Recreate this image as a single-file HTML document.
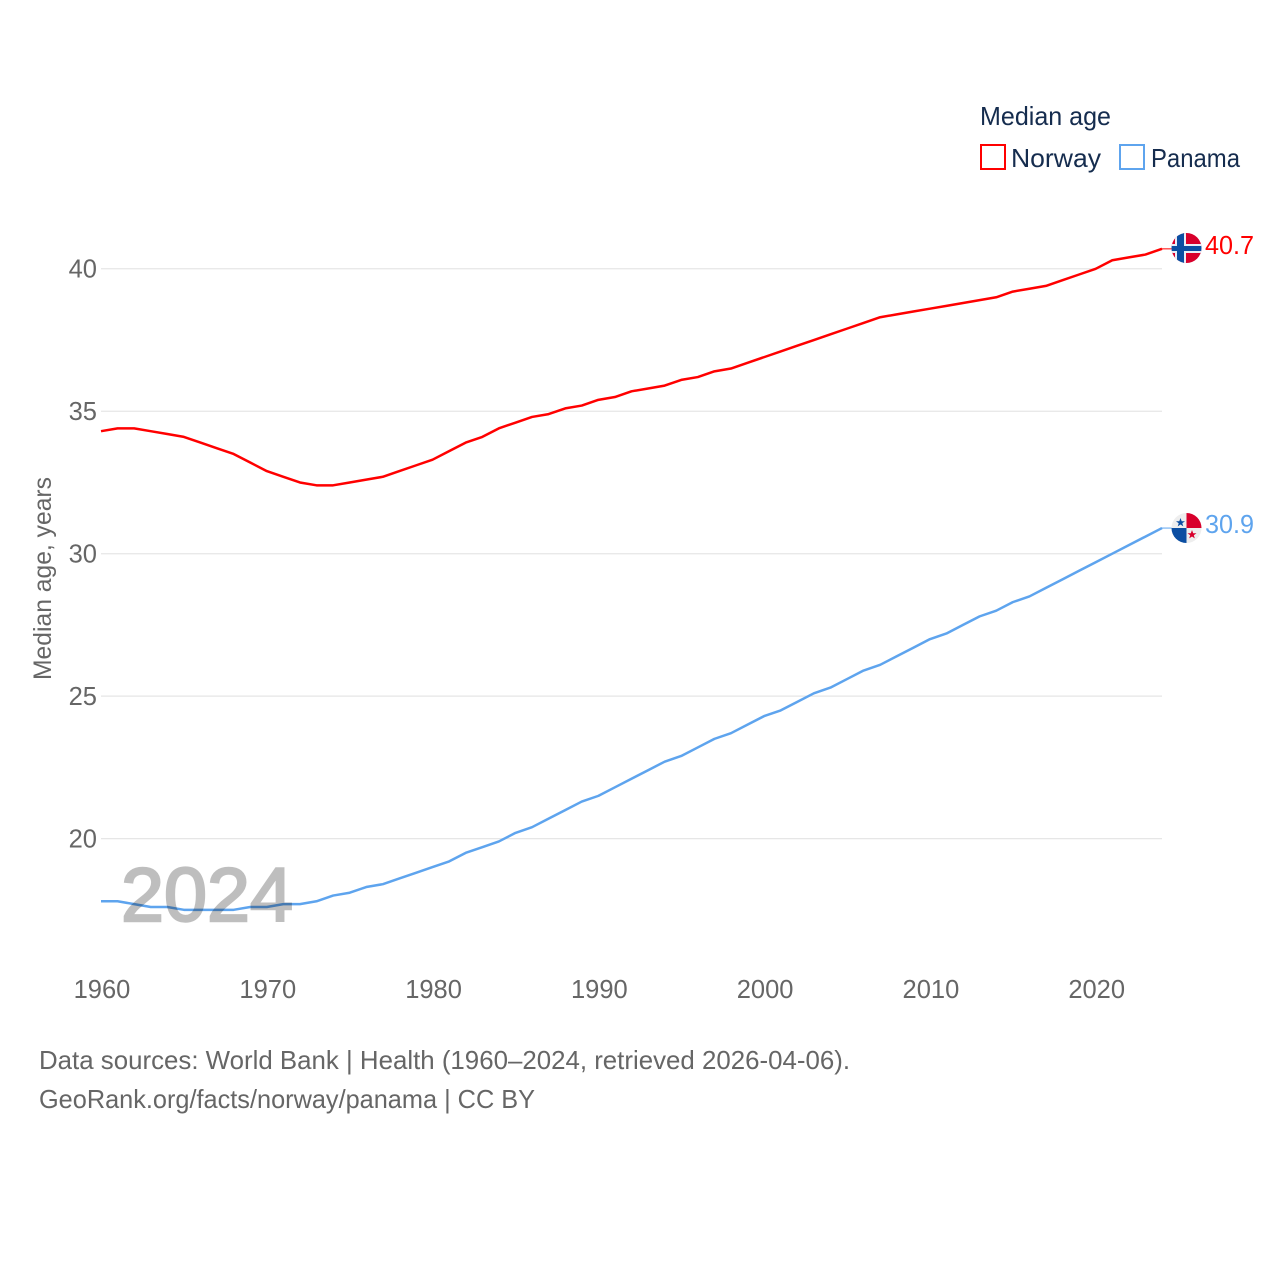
<!DOCTYPE html>
<html lang="en">
<head>
<meta charset="utf-8">
<title>Median age: Norway and Panama</title>
<style>
html,body{margin:0;padding:0;background:#fff;}
svg{display:block;font-family:"Liberation Sans",sans-serif;}
</style>
</head>
<body>
<svg id="chart" width="1280" height="1280" viewBox="0 0 1280 1280" xmlns="http://www.w3.org/2000/svg">
  <defs>
    <clipPath id="flag-clip-no"><circle cx="1186.5" cy="248" r="15"/></clipPath>
    <clipPath id="flag-clip-pa"><circle cx="1186.5" cy="528" r="15"/></clipPath>
  </defs>
  <rect width="1280" height="1280" fill="#fff"/>
  <g id="grid"></g>
  <g id="y-ticks"></g>
  <g id="x-ticks"></g>
  <g id="series"></g>

  <text x="121" y="921" font-size="76" font-weight="400" fill="#000" stroke="#000" stroke-width="2.4" opacity="0.25" textLength="172" lengthAdjust="spacingAndGlyphs">2024</text>

  <text transform="translate(51 680) rotate(-90)" font-size="25" fill="#666" textLength="203" lengthAdjust="spacingAndGlyphs">Median age, years</text>

  <g>
    <text x="980" y="125" font-size="26" fill="#152c4e" textLength="131" lengthAdjust="spacingAndGlyphs">Median age</text>
    <rect x="981" y="145" width="24" height="24" fill="#fff" stroke="#ff0000" stroke-width="2"/>
    <text x="1011" y="167" font-size="26" fill="#152c4e" textLength="90" lengthAdjust="spacingAndGlyphs">Norway</text>
    <rect x="1120" y="145" width="24" height="24" fill="#fff" stroke="#5ea4ee" stroke-width="2"/>
    <text x="1151" y="167" font-size="26" fill="#152c4e" textLength="89" lengthAdjust="spacingAndGlyphs">Panama</text>
  </g>

  <g clip-path="url(#flag-clip-no)">
    <rect x="1171" y="233" width="31" height="30" fill="#d8002c"/>
    <rect x="1175" y="233" width="11" height="30" fill="#e8eef6"/>
    <rect x="1171" y="244" width="31" height="9" fill="#e8eef6"/>
    <rect x="1177" y="233" width="7" height="30" fill="#0b4ea2"/>
    <rect x="1171" y="246" width="31" height="5" fill="#0b4ea2"/>
  </g>
  <g clip-path="url(#flag-clip-pa)">
    <rect x="1171" y="513" width="31" height="30" fill="#eeeeee"/>
    <rect x="1186.5" y="513" width="15.5" height="15" fill="#d8002c"/>
    <rect x="1171" y="528" width="15.5" height="15" fill="#0b4ea2"/>
    <polygon fill="#0b4ea2" points="1180.5,518 1181.7,521.2 1185,521.2 1182.3,523.2 1183.3,526.4 1180.5,524.5 1177.7,526.4 1178.7,523.2 1176,521.2 1179.3,521.2"/>
    <polygon fill="#d8002c" points="1192,530 1193.2,533.2 1196.5,533.2 1193.8,535.2 1194.8,538.4 1192,536.5 1189.2,538.4 1190.2,535.2 1187.5,533.2 1190.8,533.2"/>
  </g>

  <text x="1205" y="254" font-size="26" fill="#ff0000" textLength="49" lengthAdjust="spacingAndGlyphs">40.7</text>
  <text x="1205" y="533" font-size="26" fill="#5ea4ee" textLength="49" lengthAdjust="spacingAndGlyphs">30.9</text>

  <text x="39" y="1069" font-size="26" fill="#666" textLength="811" lengthAdjust="spacingAndGlyphs">Data sources: World Bank | Health (1960–2024, retrieved 2026-04-06).</text>
  <a><text x="39" y="1108" font-size="26" fill="#666" textLength="496" lengthAdjust="spacingAndGlyphs">GeoRank.org/facts/norway/panama | CC BY</text></a>
</svg>
<script>
const startYear = 1960;
const xTickLabels = [1960, 1970, 1980, 1990, 2000, 2010, 2020];
const yTickLabels = [20, 25, 30, 35, 40];
const norwayValues = [34.3,34.4,34.4,34.3,34.2,34.1,33.9,33.7,33.5,33.2,32.9,32.7,32.5,32.4,32.4,32.5,32.6,32.7,32.9,33.1,33.3,33.6,33.9,34.1,34.4,34.6,34.8,34.9,35.1,35.2,35.4,35.5,35.7,35.8,35.9,36.1,36.2,36.4,36.5,36.7,36.9,37.1,37.3,37.5,37.7,37.9,38.1,38.3,38.4,38.5,38.6,38.7,38.8,38.9,39.0,39.2,39.3,39.4,39.6,39.8,40.0,40.3,40.4,40.5,40.7];
const panamaValues = [17.8,17.8,17.7,17.6,17.6,17.5,17.5,17.5,17.5,17.6,17.6,17.7,17.7,17.8,18.0,18.1,18.3,18.4,18.6,18.8,19.0,19.2,19.5,19.7,19.9,20.2,20.4,20.7,21.0,21.3,21.5,21.8,22.1,22.4,22.7,22.9,23.2,23.5,23.7,24.0,24.3,24.5,24.8,25.1,25.3,25.6,25.9,26.1,26.4,26.7,27.0,27.2,27.5,27.8,28.0,28.3,28.5,28.8,29.1,29.4,29.7,30.0,30.3,30.6,30.9];

const NS = 'http://www.w3.org/2000/svg';
function xScale(year) { return 101 + (year - 1960) * (1162 - 101) / 64; }
function yScale(value) { return 838.6 - (value - 20) * (838.6 - 268.8) / 20; }

const gridGroup = document.getElementById('grid');
const yGroup = document.getElementById('y-ticks');
const xGroup = document.getElementById('x-ticks');
const seriesGroup = document.getElementById('series');

yTickLabels.forEach(function (v) {
  const line = document.createElementNS(NS, 'line');
  
  
  line.setAttribute('x1', 101);
  line.setAttribute('x2', 1162);
  line.setAttribute('y1', yScale(v));
  line.setAttribute('y2', yScale(v));
  line.setAttribute('stroke', '#e6e6e6');
  line.setAttribute('stroke-width', '1.25');
  gridGroup.appendChild(line);

  const label = document.createElementNS(NS, 'text');
  
  
  label.setAttribute('x', 97);
  label.setAttribute('y', yScale(v) + 8.8);
  label.setAttribute('text-anchor', 'end');
  label.setAttribute('font-size', '25.5');
  label.setAttribute('fill', '#666');
  label.textContent = v;
  yGroup.appendChild(label);
});

xTickLabels.forEach(function (y) {
  const label = document.createElementNS(NS, 'text');
  
  
  label.setAttribute('x', xScale(y) + 1);
  label.setAttribute('y', 998);
  label.setAttribute('text-anchor', 'middle');
  label.setAttribute('font-size', '25.5');
  label.setAttribute('fill', '#666');
  label.textContent = y;
  xGroup.appendChild(label);
});

function linePoints(values) {
  return values.map(function (v, i) {
    return xScale(startYear + i).toFixed(2) + ',' + yScale(v).toFixed(2);
  }).join(' ');
}

function connectorEnd(values) {
  return yScale(values[values.length - 1]);
}

const norwayLine = document.createElementNS(NS, 'polyline');


norwayLine.setAttribute('points', linePoints(norwayValues));
norwayLine.setAttribute('fill', 'none');
norwayLine.setAttribute('stroke', '#ff0000');
norwayLine.setAttribute('stroke-width', '2.5');
norwayLine.setAttribute('stroke-linejoin', 'round');
seriesGroup.appendChild(norwayLine);

const norwayConnector = document.createElementNS(NS, 'line');


norwayConnector.setAttribute('x1', xScale(startYear + norwayValues.length - 1) - 2);
norwayConnector.setAttribute('x2', 1172);
norwayConnector.setAttribute('y1', connectorEnd(norwayValues));
norwayConnector.setAttribute('y2', connectorEnd(norwayValues));
norwayConnector.setAttribute('stroke', '#ff0000');
norwayConnector.setAttribute('stroke-width', '1');
seriesGroup.appendChild(norwayConnector);

const panamaLine = document.createElementNS(NS, 'polyline');


panamaLine.setAttribute('points', linePoints(panamaValues));
panamaLine.setAttribute('fill', 'none');
panamaLine.setAttribute('stroke', '#5ea4ee');
panamaLine.setAttribute('stroke-width', '2.5');
panamaLine.setAttribute('stroke-linejoin', 'round');
seriesGroup.appendChild(panamaLine);

const panamaConnector = document.createElementNS(NS, 'line');


panamaConnector.setAttribute('x1', xScale(startYear + panamaValues.length - 1) - 2);
panamaConnector.setAttribute('x2', 1172);
panamaConnector.setAttribute('y1', connectorEnd(panamaValues));
panamaConnector.setAttribute('y2', connectorEnd(panamaValues));
panamaConnector.setAttribute('stroke', '#5ea4ee');
panamaConnector.setAttribute('stroke-width', '1');
seriesGroup.appendChild(panamaConnector);
</script>
</body>
</html>
